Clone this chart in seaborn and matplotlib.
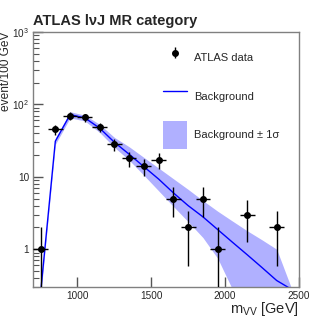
import matplotlib
matplotlib.use("Agg")
import matplotlib.pyplot as plt
import seaborn as sns
import numpy as np
from pandas import DataFrame
from matplotlib.lines import Line2D
from matplotlib.patches import Patch

sns.set_theme(style="ticks")
plt.rcParams["font.family"] = ["Liberation Sans", "DejaVu Sans"]
plt.rcParams["mathtext.fontset"] = "custom"
plt.rcParams["mathtext.rm"] = "Liberation Sans"
plt.rcParams["mathtext.it"] = "Liberation Sans:italic"

# data points (bin centres, events per 100 GeV)
dataMass = [750, 850, 950, 1050, 1150, 1250, 1350, 1450, 1550, 1650,
            1750, 1850, 1950, 2050, 2150, 2250, 2350]
dataCounts = [1, 45, 70, 66, 48, 28, 18, 14, 17, 5, 2, 5, 1, 0, 3, 0, 2]

# background fit and its 1 sigma band
bkgMass = [750, 850, 950, 1050, 1150, 1250, 1350, 1450, 1550, 1650,
           1750, 1850, 1950, 2050, 2150, 2250, 2350, 2450]
bkgValue = [0.25, 31, 72, 65, 47, 30, 20.5, 13.8, 9.3, 6.0,
            4.0, 2.8, 1.87, 1.25, 0.84, 0.56, 0.37, 0.28]
bkgUp = [0.28, 34, 79, 71, 53, 35, 26, 18.5, 13.2, 9.4,
         6.7, 4.7, 3.35, 2.45, 1.8, 1.35, 1.0, 0.29]
bkgDown = [0.22, 28, 65, 59, 41, 25.5, 17, 10.5, 6.4, 3.9,
           2.4, 1.45, 0.75, 0.28, 0.13, 0.06, 0.03, 0.27]

df = DataFrame({"mass": dataMass, "events": dataCounts})
df = df[df["events"] > 0]
bkg = DataFrame({"mass": bkgMass, "bkg": bkgValue, "up": bkgUp, "down": bkgDown})

fig = plt.figure(figsize=(3.32, 3.19), dpi=100)
ax = fig.add_axes([0.1, 0.1, 0.8, 0.8])

ax.fill_between(bkg["mass"], bkg["down"], bkg["up"], color="#b0b0ff", lw=0, zorder=1)
sns.lineplot(x="mass", y="bkg", data=bkg, color="#0000ff", lw=1.0, ax=ax, zorder=2)

err = np.sqrt(df["events"])
ax.errorbar(df["mass"], df["events"], yerr=err, xerr=50, fmt="o", color="black",
            ms=4, elinewidth=1.0, capsize=0, zorder=3)

ax.set_yscale("log")
ax.set_xlim(700, 2500)
ax.set_ylim(0.3, 1000)
ax.set_xticks([1000, 1500, 2000, 2500])
ax.set_xticklabels(["1000", "1500", "2000", "2500"])
ax.set_yticks([1, 10, 100, 1000])
ax.set_yticklabels(["1", "10", "$10^2$", "$10^3$"])
ax.yaxis.set_minor_locator(matplotlib.ticker.LogLocator(base=10, subs=np.arange(2, 10)))
ax.yaxis.set_minor_formatter(matplotlib.ticker.NullFormatter())
ax.tick_params(axis="both", which="major", direction="in", length=7, width=1,
               color="#555555", labelsize=7.2, pad=3)
ax.tick_params(axis="y", which="minor", direction="in", length=4, width=0.8, color="#555555")
ax.tick_params(axis="x", which="minor", bottom=False)
for s in ax.spines.values():
    s.set_color("#808080")
    s.set_linewidth(1.0)

ax.set_xlabel("m$_{\\mathregular{VV}}$ [GeV]", loc="right", fontsize=10.5)
ax.xaxis.set_label_coords(1.0, -0.05)
ax.set_ylabel("event/100 GeV", loc="top", fontsize=8.6)
ax.yaxis.set_label_coords(-0.078, 1.0)
ax.set_title("ATLAS l\u03bdJ MR category", loc="left", fontsize=10.5,
             fontweight="bold", pad=5)

handles = [
    ax.errorbar([np.nan], [np.nan], yerr=[1], fmt="o", color="black", ms=4,
                elinewidth=1.0),
    Line2D([], [], color="#0000ff", lw=1.0),
    Patch(facecolor="#b0b0ff", edgecolor="none"),
]
ax.legend(handles, ["ATLAS data", "Background", "Background \u00b1 1\u03c3"],
          loc="upper left", bbox_to_anchor=(0.45, 0.99), frameon=False,
          fontsize=8, handlelength=2.2, handleheight=3.4, labelspacing=1.0,
          handletextpad=0.6)

plt.savefig("out.png", dpi=100)
